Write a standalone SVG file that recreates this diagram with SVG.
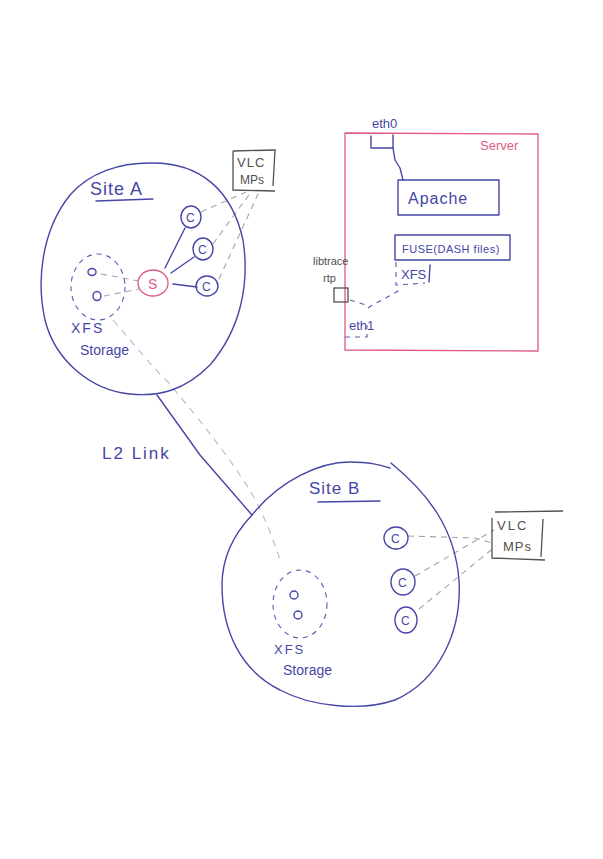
<svg xmlns="http://www.w3.org/2000/svg" width="603" height="859" viewBox="0 0 603 859">
<style>
.ink{fill:none;stroke:#4646a6;stroke-width:1.4;stroke-linecap:round;stroke-linejoin:round}
.pink{fill:none;stroke:#e05a82;stroke-width:1.3}
.gdash{fill:none;stroke:#a4a4a4;stroke-width:1.1;stroke-dasharray:6 5}
.bdash{fill:none;stroke:#5a5aae;stroke-width:1.1;stroke-dasharray:5 5}
.ldash{fill:none;stroke:#b4b8d4;stroke-width:1.1;stroke-dasharray:7 6}
.gbox{fill:none;stroke:#505050;stroke-width:1.3}
.t{font-family:"Liberation Sans",Arial,sans-serif;fill:#4646a6}
.tg{font-family:"Liberation Sans",Arial,sans-serif;fill:#505050}
.tp{font-family:"Liberation Sans",Arial,sans-serif;fill:#e05a82}
</style>
<rect width="603" height="859" fill="#ffffff"/>
<g id="connectors">
<path class="ink" d="M157,395 L200,455 L252,515"/>
<path class="ldash" d="M113,320 C135,345 150,365 168,382 C200,420 240,470 258,505 C268,525 275,545 280,560"/>
<path class="ink" d="M165,268 L185,228"/>
<path class="ink" d="M171,273 L194,257"/>
<path class="ink" d="M173,284 L197,287"/>
<path class="gdash" d="M101,274 L139,281"/>
<path class="gdash" d="M104,296 L139,289"/>
<path class="gdash" d="M201,212 L246,192"/>
<path class="gdash" d="M213,244 L251,192"/>
<path class="gdash" d="M219,279 L259,192"/>
<path class="gdash" d="M408,536 L475,538 L492,543"/>
<path class="gdash" d="M415,576 L494,530"/>
<path class="gdash" d="M419,609 L496,546"/>
<path class="ink" d="M393,148 L395,160 L400,168 L403,180"/>
<path class="bdash" d="M350,300 L366,305"/>
<path class="bdash" d="M368,308 C380,300 392,296 402,288"/>
</g>
<g id="site-a">
<path class="ink" d="M150,163 C200,162 232,190 243,240 C250,285 240,330 210,365 C185,390 160,397 130,394 C90,390 55,360 45,320 C36,280 42,230 70,195 C90,172 120,163 150,163 Z"/>
<text class="t" x="90" y="195" font-size="18" letter-spacing="1">Site A</text>
<path class="ink" d="M96,201 L153,199"/>
</g>
<g id="storage-a">
<ellipse class="bdash" cx="98" cy="287" rx="27" ry="33"/>
<ellipse class="ink" cx="92" cy="272" rx="4" ry="3.5"/>
<ellipse class="ink" cx="97" cy="296" rx="4" ry="4.5"/>
<text class="t" x="71" y="333" font-size="14" letter-spacing="2">XFS</text>
<text class="t" x="80" y="355" font-size="14">Storage</text>
</g>
<g id="server-s">
<ellipse cx="153" cy="283" rx="15" ry="13" fill="none" stroke="#e05a82" stroke-width="1.3"/>
<text class="tp" x="148" y="289" font-size="14">S</text>
</g>
<g id="client-a1">
<ellipse class="ink" cx="191" cy="217" rx="10" ry="11"/>
<text class="t" x="186" y="222" font-size="12">C</text>
</g>
<g id="client-a2">
<ellipse class="ink" cx="203" cy="249" rx="10" ry="11"/>
<text class="t" x="198" y="254" font-size="12">C</text>
</g>
<g id="client-a3">
<ellipse class="ink" cx="207" cy="286" rx="11" ry="10"/>
<text class="t" x="202" y="291" font-size="12">C</text>
</g>
<g id="vlc-a">
<path class="gbox" d="M233,151 L276,150 M233,151 L233,190 L275,191 M275,150 L273,186"/>
<text class="tg" x="237" y="167" font-size="13" letter-spacing="1">VLC</text>
<text class="tg" x="240" y="184" font-size="12">MPs</text>
</g>
<g id="label-l2">
<text class="t" x="102" y="459" font-size="17" letter-spacing="2">L2 Link</text>
</g>
<g id="site-b">
<path class="ink" d="M252,515 C280,480 320,462 350,462 C370,462 380,465 390,468 M391,463 C430,495 455,530 459,580 C462,630 440,680 395,700 C360,712 310,706 280,690 C240,670 222,630 222,585 C222,555 235,533 252,515"/>
<text class="t" x="309" y="494" font-size="17" letter-spacing="1">Site B</text>
<path class="ink" d="M318,502 L380,501"/>
</g>
<g id="storage-b">
<ellipse class="bdash" cx="300" cy="604" rx="27" ry="34"/>
<ellipse class="ink" cx="294" cy="595" rx="4" ry="4"/>
<ellipse class="ink" cx="298" cy="615" rx="4" ry="4"/>
<text class="t" x="274" y="654" font-size="13" letter-spacing="2">XFS</text>
<text class="t" x="283" y="675" font-size="14">Storage</text>
</g>
<g id="client-b1">
<ellipse class="ink" cx="396" cy="538" rx="12" ry="11"/>
<text class="t" x="391" y="543" font-size="12">C</text>
</g>
<g id="client-b2">
<ellipse class="ink" cx="403" cy="582" rx="12" ry="13"/>
<text class="t" x="398" y="587" font-size="12">C</text>
</g>
<g id="client-b3">
<ellipse class="ink" cx="406" cy="620" rx="11" ry="13"/>
<text class="t" x="401" y="625" font-size="12">C</text>
</g>
<g id="vlc-b">
<path class="gbox" d="M495,512 L563,511 M492,518 L492,558 L545,560 M543,519 L541,557"/>
<text class="tg" x="497" y="530" font-size="13" letter-spacing="2">VLC</text>
<text class="tg" x="503" y="551" font-size="13" letter-spacing="1">MPs</text>
</g>
<g id="server">
<path class="pink" d="M345,133 L538,134 L538,351 L345,350 Z"/>
<text class="tp" x="480" y="150" font-size="13">Server</text>
</g>
<g id="eth0">
<text class="t" x="372" y="128" font-size="13">eth0</text>
<path class="ink" d="M371,136 L371,148 L393,148 L393,135"/>
</g>
<g id="apache">
<rect class="ink" x="398" y="180" width="101" height="35"/>
<text class="t" x="408" y="204" font-size="16" letter-spacing="1">Apache</text>
</g>
<g id="fuse">
<rect class="ink" x="395" y="235" width="115" height="25"/>
<text class="t" x="402" y="253" font-size="11" letter-spacing="0.5">FUSE(DASH files)</text>
</g>
<g id="xfs">
<path class="bdash" d="M396,262 L396,285 L425,283"/>
<path class="ink" d="M430,265 L429,282"/>
<text class="t" x="401" y="279" font-size="13">XFS</text>
</g>
<g id="libtrace">
<text class="tg" x="313" y="265" font-size="11">libtrace</text>
<text class="tg" x="323" y="282" font-size="11">rtp</text>
<rect class="gbox" x="334" y="288" width="14" height="14"/>
</g>
<g id="eth1">
<text class="t" x="349" y="330" font-size="13">eth1</text>
<path class="bdash" d="M345,337 L367,337 L367,325"/>
</g>
</svg>
